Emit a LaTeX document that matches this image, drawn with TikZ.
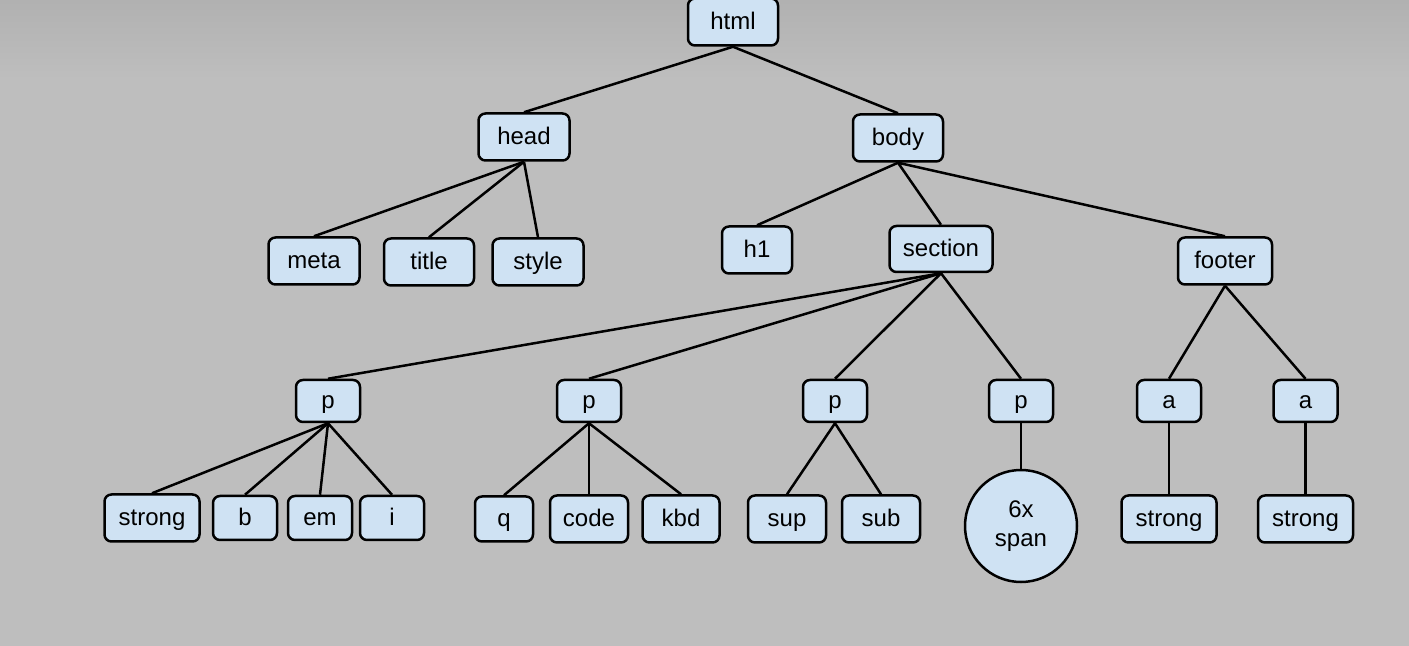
\documentclass[tikz,border=0pt]{standalone}
\usepackage{fontspec}
\setmainfont{Liberation Sans}
\definecolor{bggray}{HTML}{BEBEBE}
\definecolor{bgtop}{HTML}{B1B1B1}
\definecolor{tagfill}{HTML}{CFE2F3}
\tikzstyle{tag} = [rectangle, rounded corners=3.5pt, draw=black, line width=1.25pt, fill=tagfill, minimum height=23.5pt, inner sep=0pt, text height=0.85em, text depth=0.05em, text centered, font=\fontsize{12}{14}\selectfont]
\tikzstyle{ptag} = [tag, minimum width=32pt, minimum height=21pt]
\tikzstyle{roundtag} = [circle, draw=black, line width=1.25pt, fill=tagfill, minimum size=56pt, inner sep=0pt, align=center, font=\fontsize{12}{14.5}\selectfont]
\tikzstyle{edge} = [line width=1.25pt, black]
\begin{document}
\begin{tikzpicture}[x=0.5pt, y=-0.5pt]

    % Background
    \useasboundingbox (0,0) rectangle (1409,646);
    \fill[bggray] (0,0) rectangle (1409,646);
    \shade[top color=bgtop, bottom color=bggray] (0,0) rectangle (1409,80);

    % Nodes
    \node (html) [tag, minimum width=45pt] at (733,22) {html};
    \node (head) [tag, minimum width=45.5pt] at (524,137) {head};
    \node (body) [tag, minimum width=45pt] at (898,138) {body};

    \node (meta) [tag, minimum width=45.5pt] at (314,261) {meta};
    \node (titl) [tag, minimum width=45pt] at (429,262) {title};
    \node (styl) [tag, minimum width=45.5pt] at (538,262) {style};

    \node (hone) [tag, minimum width=35pt] at (757,250) {h1};
    \node (sect) [tag, minimum width=51.5pt, minimum height=23pt] at (941,249) {section};
    \node (foot) [tag, minimum width=47pt] at (1225,261) {footer};

    \node (pa) [ptag] at (328,401) {p};
    \node (pb) [ptag] at (589,401) {p};
    \node (pc) [ptag] at (835,401) {p};
    \node (pd) [ptag] at (1021,401) {p};
    \node (aa) [ptag] at (1169,401) {a};
    \node (ab) [ptag] at (1305.5,401) {a};

    \node (strong) [tag, minimum width=47.5pt] at (152,518) {strong};
    \node (b) [tag, minimum width=32pt, minimum height=22pt] at (245,518) {b};
    \node (em) [tag, minimum width=32pt, minimum height=22pt] at (320,518) {em};
    \node (i) [tag, minimum width=32pt, minimum height=22pt] at (392,518) {i};

    \node (q) [tag, minimum width=29pt, minimum height=22.5pt] at (504,519) {q};
    \node (code) [tag, minimum width=39pt] at (589,519) {code};
    \node (kbd) [tag, minimum width=38.5pt] at (681,519) {kbd};

    \node (sup) [tag, minimum width=39pt] at (787,519) {sup};
    \node (sub) [tag, minimum width=39pt] at (881,519) {sub};

    \node (span) [roundtag] at (1021,526) {6x\\span};

    \node (stronga) [tag, minimum width=47.5pt] at (1169,519) {strong};
    \node (strongb) [tag, minimum width=47.5pt] at (1305.5,519) {strong};

    % Edges
    \draw [edge] (html.south) -- (head.north);
    \draw [edge] (html.south) -- (body.north);

    \draw [edge] (head.south) -- (meta.north);
    \draw [edge] (head.south) -- (titl.north);
    \draw [edge] (head.south) -- (styl.north);

    \draw [edge] (body.south) -- (hone.north);
    \draw [edge] (body.south) -- (sect.north);
    \draw [edge] (body.south) -- (foot.north);

    \draw [edge] (sect.south) -- (pa.north);
    \draw [edge] (sect.south) -- (pb.north);
    \draw [edge] (sect.south) -- (pc.north);
    \draw [edge] (sect.south) -- (pd.north);

    \draw [edge] (foot.south) -- (aa.north);
    \draw [edge] (foot.south) -- (ab.north);

    \draw [edge] (pa.south) -- (strong.north);
    \draw [edge] (pa.south) -- (b.north);
    \draw [edge] (pa.south) -- (em.north);
    \draw [edge] (pa.south) -- (i.north);

    \draw [edge] (pb.south) -- (q.north);
    \draw [edge] (pb.south) -- (code.north);
    \draw [edge] (pb.south) -- (kbd.north);

    \draw [edge] (pc.south) -- (sup.north);
    \draw [edge] (pc.south) -- (sub.north);

    \draw [edge] (pd.south) -- (span.north);
    \draw [edge] (aa.south) -- (stronga.north);
    \draw [edge] (ab.south) -- (strongb.north);

\end{tikzpicture}
\end{document}
